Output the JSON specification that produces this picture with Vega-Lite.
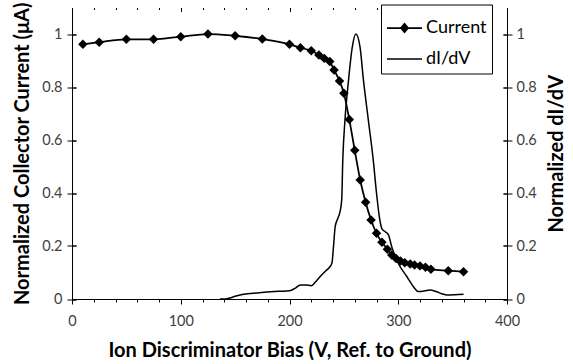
{
  "$schema": "https://vega.github.io/schema/vega-lite/v6.json",
  "width": 435,
  "height": 291.5,
  "autosize": "none",
  "padding": {"left": 72, "top": 7.5, "right": 66, "bottom": 65},
  "background": "white",
  "config": {"font": "Lato", "view": {"stroke": null}},
  "data": {"values": [
    {"series": "Current", "v": 10, "y": 0.961},
    {"series": "Current", "v": 25, "y": 0.969},
    {"series": "Current", "v": 50, "y": 0.98},
    {"series": "Current", "v": 75, "y": 0.98},
    {"series": "Current", "v": 100, "y": 0.99},
    {"series": "Current", "v": 125, "y": 1.0},
    {"series": "Current", "v": 150, "y": 0.993},
    {"series": "Current", "v": 175, "y": 0.981},
    {"series": "Current", "v": 200, "y": 0.961},
    {"series": "Current", "v": 210, "y": 0.948},
    {"series": "Current", "v": 220, "y": 0.937},
    {"series": "Current", "v": 227, "y": 0.921},
    {"series": "Current", "v": 232, "y": 0.908},
    {"series": "Current", "v": 237, "y": 0.896},
    {"series": "Current", "v": 241, "y": 0.864},
    {"series": "Current", "v": 246, "y": 0.823},
    {"series": "Current", "v": 250, "y": 0.776},
    {"series": "Current", "v": 255, "y": 0.677},
    {"series": "Current", "v": 260, "y": 0.561},
    {"series": "Current", "v": 265, "y": 0.449},
    {"series": "Current", "v": 270, "y": 0.365},
    {"series": "Current", "v": 275, "y": 0.298},
    {"series": "Current", "v": 280, "y": 0.248},
    {"series": "Current", "v": 285, "y": 0.214},
    {"series": "Current", "v": 290, "y": 0.188},
    {"series": "Current", "v": 294, "y": 0.166},
    {"series": "Current", "v": 298, "y": 0.153},
    {"series": "Current", "v": 302, "y": 0.143},
    {"series": "Current", "v": 306, "y": 0.137},
    {"series": "Current", "v": 311, "y": 0.132},
    {"series": "Current", "v": 315, "y": 0.128},
    {"series": "Current", "v": 320, "y": 0.125},
    {"series": "Current", "v": 325, "y": 0.12},
    {"series": "Current", "v": 330, "y": 0.112},
    {"series": "Current", "v": 346, "y": 0.107},
    {"series": "Current", "v": 360, "y": 0.103},
    {"series": "dI/dV", "v": 136, "y": 0.0},
    {"series": "dI/dV", "v": 141, "y": 0.0},
    {"series": "dI/dV", "v": 150, "y": 0.01},
    {"series": "dI/dV", "v": 158, "y": 0.018},
    {"series": "dI/dV", "v": 170, "y": 0.023},
    {"series": "dI/dV", "v": 179, "y": 0.026},
    {"series": "dI/dV", "v": 190, "y": 0.029},
    {"series": "dI/dV", "v": 200, "y": 0.031},
    {"series": "dI/dV", "v": 205, "y": 0.04},
    {"series": "dI/dV", "v": 210, "y": 0.053},
    {"series": "dI/dV", "v": 215, "y": 0.053},
    {"series": "dI/dV", "v": 220, "y": 0.05},
    {"series": "dI/dV", "v": 224, "y": 0.065},
    {"series": "dI/dV", "v": 228, "y": 0.084},
    {"series": "dI/dV", "v": 233, "y": 0.105},
    {"series": "dI/dV", "v": 236, "y": 0.116},
    {"series": "dI/dV", "v": 239, "y": 0.135},
    {"series": "dI/dV", "v": 240.5, "y": 0.2},
    {"series": "dI/dV", "v": 242, "y": 0.273},
    {"series": "dI/dV", "v": 245, "y": 0.31},
    {"series": "dI/dV", "v": 246.5, "y": 0.33},
    {"series": "dI/dV", "v": 248, "y": 0.374},
    {"series": "dI/dV", "v": 249, "y": 0.525},
    {"series": "dI/dV", "v": 251, "y": 0.675},
    {"series": "dI/dV", "v": 254, "y": 0.814},
    {"series": "dI/dV", "v": 257.8, "y": 0.952},
    {"series": "dI/dV", "v": 261, "y": 1.0},
    {"series": "dI/dV", "v": 264.8, "y": 0.952},
    {"series": "dI/dV", "v": 268, "y": 0.826},
    {"series": "dI/dV", "v": 272.5, "y": 0.675},
    {"series": "dI/dV", "v": 277, "y": 0.525},
    {"series": "dI/dV", "v": 280, "y": 0.4},
    {"series": "dI/dV", "v": 283, "y": 0.3},
    {"series": "dI/dV", "v": 285, "y": 0.265},
    {"series": "dI/dV", "v": 288, "y": 0.254},
    {"series": "dI/dV", "v": 291, "y": 0.242},
    {"series": "dI/dV", "v": 294, "y": 0.197},
    {"series": "dI/dV", "v": 300, "y": 0.135},
    {"series": "dI/dV", "v": 308, "y": 0.084},
    {"series": "dI/dV", "v": 314, "y": 0.046},
    {"series": "dI/dV", "v": 318.5, "y": 0.028},
    {"series": "dI/dV", "v": 324, "y": 0.03},
    {"series": "dI/dV", "v": 329, "y": 0.034},
    {"series": "dI/dV", "v": 335, "y": 0.028},
    {"series": "dI/dV", "v": 340, "y": 0.02},
    {"series": "dI/dV", "v": 345, "y": 0.015},
    {"series": "dI/dV", "v": 352, "y": 0.016},
    {"series": "dI/dV", "v": 360, "y": 0.018}
  ]},
  "encoding": {
    "x": {
      "field": "v", "type": "quantitative",
      "scale": {"domain": [0, 400], "nice": false},
      "axis": {
        "values": [0,20,40,60,80,100,120,140,160,180,200,220,240,260,280,300,320,340,360,380,400],
        "labelExpr": "datum.value % 100 === 0 ? datum.label : ''",
        "labelFlush": false,
        "labelOverlap": false,
        "domainColor": "black", "domainWidth": 1,
        "tickColor": "black", "tickWidth": 1,
        "tickSize": {"condition": {"test": "datum.value % 100 === 0", "value": 5}, "value": 3},
        "grid": true, "gridColor": "black", "gridOpacity": 1, "gridWidth": 1,
        "gridDash": {"condition": {"test": "datum.value % 100 === 0", "value": [4, 1000]}, "value": [2, 1000]},
        "labelFontSize": 14.5, "labelColor": "#404040", "labelPadding": 10,
        "title": "Ion Discriminator Bias (V, Ref. to Ground)",
        "titleFontSize": 20, "titleFontWeight": "bold", "titleColor": "black", "titlePadding": 13
      }
    }
  },
  "layer": [
    {
      "mark": {"type": "line", "interpolate": "monotone"},
      "encoding": {
        "y": {
          "field": "y", "type": "quantitative",
          "scale": {"domain": [0, 1.1], "nice": false},
          "axis": {
            "orient": "left",
            "values": [0, 0.2, 0.4, 0.6, 0.8, 1],
            "format": "~g",
            "domainColor": "black", "tickColor": "black", "tickSize": 5,
            "grid": true, "gridColor": "black", "gridOpacity": 1, "gridDash": [4, 427, 4, 1000],
            "labelFontSize": 14.5, "labelColor": "#404040", "labelPadding": 5,
            "title": "Normalized Collector Current (μA)",
            "titleFontSize": 20, "titleFontWeight": "bold", "titleColor": "black", "titlePadding": 9
          }
        },
        "color": {
          "field": "series", "type": "nominal",
          "scale": {"domain": ["Current", "dI/dV"], "range": ["black", "black"]},
          "legend": {
            "orient": "none", "legendX": 309, "legendY": -3,
            "title": null,
            "strokeColor": "black", "fillColor": "white", "padding": 5,
            "labelFontSize": 18, "labelColor": "black", "labelOffset": 3,
            "symbolSize": 1225, "symbolStrokeWidth": 1.5, "symbolStrokeColor": "black",
            "rowPadding": 3,
            "encode": {"symbols": {"update": {
              "shape": {"signal": "datum.value === 'Current' ? 'M-1,0H1M0,-0.24L0.2,0L0,0.24L-0.2,0Z' : 'M-1,0H1'"},
              "fill": {"value": "black"},
              "stroke": {"value": "black"}
            }}}
          }
        },
        "strokeWidth": {
          "field": "series", "type": "nominal",
          "scale": {"domain": ["Current", "dI/dV"], "range": [1.75, 1.5]},
          "legend": null
        }
      }
    },
    {
      "transform": [{"filter": "datum.series === 'Current'"}],
      "mark": {"type": "point", "shape": "diamond", "filled": true, "size": 90, "color": "black", "opacity": 1},
      "encoding": {
        "y": {
          "field": "y", "type": "quantitative",
          "scale": {"domain": [0, 1.1], "nice": false},
          "axis": {
            "orient": "right",
            "values": [0, 0.2, 0.4, 0.6, 0.8, 1],
            "format": "~g",
            "domainColor": "black", "tickColor": "black", "tickSize": 5,
            "grid": true, "gridColor": "black", "gridOpacity": 1, "gridDash": [4, 427, 4, 1000],
            "labelFontSize": 14.5, "labelColor": "#404040", "labelPadding": 4,
            "title": "Normalized dI/dV", "titleAngle": 270, "titleBaseline": "top",
            "titleFontSize": 20, "titleFontWeight": "bold", "titleColor": "black", "titlePadding": 10
          }
        }
      }
    }
  ],
  "resolve": {"axis": {"y": "independent"}}
}
